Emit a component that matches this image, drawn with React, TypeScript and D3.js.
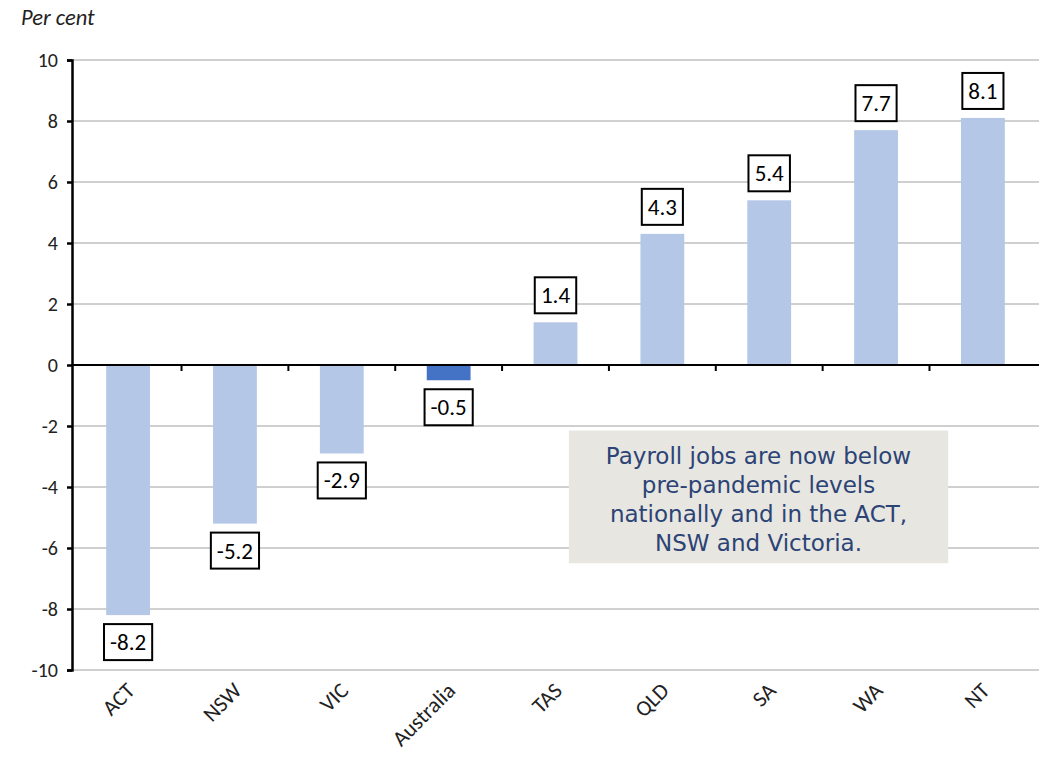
import * as d3 from "d3";
import React, { useEffect, useRef } from "react";

const categories = ["ACT", "NSW", "VIC", "Australia", "TAS", "QLD", "SA", "WA", "NT"];
const values = [-8.2, -5.2, -2.9, -0.5, 1.4, 4.3, 5.4, 7.7, 8.1];
const yTicks = [-10, -8, -6, -4, -2, 0, 2, 4, 6, 8, 10];
const highlight = "Australia";
const noteLines = [
	"Payroll jobs are now below",
	"pre-pandemic levels",
	"nationally and in the ACT,",
	"NSW and Victoria.",
];

const App = () => {
	const ref = useRef<SVGSVGElement>(null);

	useEffect(() => {
		const width = 1047;
		const height = 762;
		const left = 72;
		const right = 1039;
		const top = 60;
		const bottom = 670;
		const font = "Carlito, 'Open Sans', sans-serif";

		const svg = d3.select(ref.current);
		svg.selectAll("*").remove();
		svg.attr("width", width).attr("height", height);

		const pi = 0.59;
		const x = d3.scaleBand().domain(categories).range([left, right]).paddingInner(pi).paddingOuter(0.32);
		const y = d3.scaleLinear().domain([-10, 10]).range([bottom, top]);
		const step = x.step();

		// gridlines
		svg.append("g")
			.selectAll("line")
			.data(yTicks.filter((t) => t !== 0))
			.join("line")
			.attr("x1", left)
			.attr("x2", right)
			.attr("y1", (d) => y(d))
			.attr("y2", (d) => y(d))
			.attr("stroke", "#a0a0a0")
			.attr("stroke-width", 1);

		// bars
		svg.append("g")
			.selectAll("rect")
			.data(values)
			.join("rect")
			.attr("x", (d, i) => x(categories[i]) as number)
			.attr("width", x.bandwidth())
			.attr("y", (d) => y(Math.max(0, d)))
			.attr("height", (d) => Math.abs(y(d) - y(0)))
			.attr("fill", (d, i) => (categories[i] === highlight ? "#4472c4" : "#b4c7e7"));

		// zero line + category ticks
		svg.append("line")
			.attr("x1", left)
			.attr("x2", right)
			.attr("y1", y(0))
			.attr("y2", y(0))
			.attr("stroke", "#000")
			.attr("stroke-width", 2.2);

		svg.append("g")
			.selectAll("line")
			.data(categories.slice(1))
			.join("line")
			.attr("x1", (c) => (x(c) as number) - (step * pi) / 2)
			.attr("x2", (c) => (x(c) as number) - (step * pi) / 2)
			.attr("y1", y(0))
			.attr("y2", y(0) + 6)
			.attr("stroke", "#000")
			.attr("stroke-width", 2);

		// y axis
		const yAxis = svg.append("g")
			.attr("transform", `translate(${left},0)`)
			.call(d3.axisLeft(y).tickValues(yTicks).tickSize(5).tickPadding(9).tickFormat((d) => String(d)));
		yAxis.select(".domain").attr("stroke", "#000").attr("stroke-width", 2.5);
		yAxis.selectAll(".tick line").attr("stroke", "#000").attr("stroke-width", 2.5);
		yAxis.selectAll("text")
			.attr("font-family", font)
			.attr("font-size", 20)
			.attr("fill", "#222");

		svg.append("text")
			.attr("x", 21)
			.attr("y", 25)
			.attr("font-family", font)
			.attr("font-style", "italic")
			.attr("font-size", 22.5)
			.attr("fill", "#222")
			.text("Per cent");

		// x labels
		svg.append("g")
			.selectAll("text")
			.data(categories)
			.join("text")
			.attr("transform", (d) => `translate(${(x(d) as number) + x.bandwidth() / 2 + 8},${bottom + 22}) rotate(-45)`)
			.attr("text-anchor", "end")
			.attr("font-family", font)
			.attr("font-size", 22)
			.attr("fill", "#222")
			.text((d) => d);

		// value labels
		const lab = svg.append("g")
			.selectAll("g")
			.data(values)
			.join("g")
			.attr("transform", (d, i) => {
				const cx = (x(categories[i]) as number) + x.bandwidth() / 2;
				const cy = d >= 0 ? y(d) - 27 : Math.max(y(d), y(0) + 8) + 27;
				return `translate(${cx},${cy})`;
			});
		lab.append("text")
			.attr("text-anchor", "middle")
			.attr("dominant-baseline", "central")
			.attr("font-family", font)
			.attr("font-size", 23)
			.attr("fill", "#000")
			.text((d) => d.toFixed(1));
		lab.each(function () {
			const g = d3.select(this);
			const bb = (g.select("text").node() as SVGTextElement).getBBox();
			g.insert("rect", "text")
				.attr("x", -bb.width / 2 - 6)
				.attr("y", -18)
				.attr("width", bb.width + 12)
				.attr("height", 36)
				.attr("fill", "#fff")
				.attr("stroke", "#000")
				.attr("stroke-width", 2);
		});

		// annotation
		const nx0 = left + 4.65 * step;
		const nx1 = left + 8.2 * step;
		const ny0 = y(-2.15);
		const ny1 = y(-6.5);
		svg.append("rect")
			.attr("x", nx0)
			.attr("y", ny0)
			.attr("width", nx1 - nx0)
			.attr("height", ny1 - ny0)
			.attr("fill", "#e7e6e1");
		svg.append("g")
			.selectAll("text")
			.data(noteLines)
			.join("text")
			.attr("x", (nx0 + nx1) / 2)
			.attr("y", (d, i) => ny0 + 33 + i * 29)
			.attr("text-anchor", "middle")
			.attr("font-family", "'DejaVu Sans', sans-serif")
			.attr("font-size", 23)
			.attr("fill", "#2b4375")
			.text((d) => d);
	}, []);

	return <svg ref={ref} style={{ display: "block", margin: "-8px" }}></svg>;
};

export default App;
